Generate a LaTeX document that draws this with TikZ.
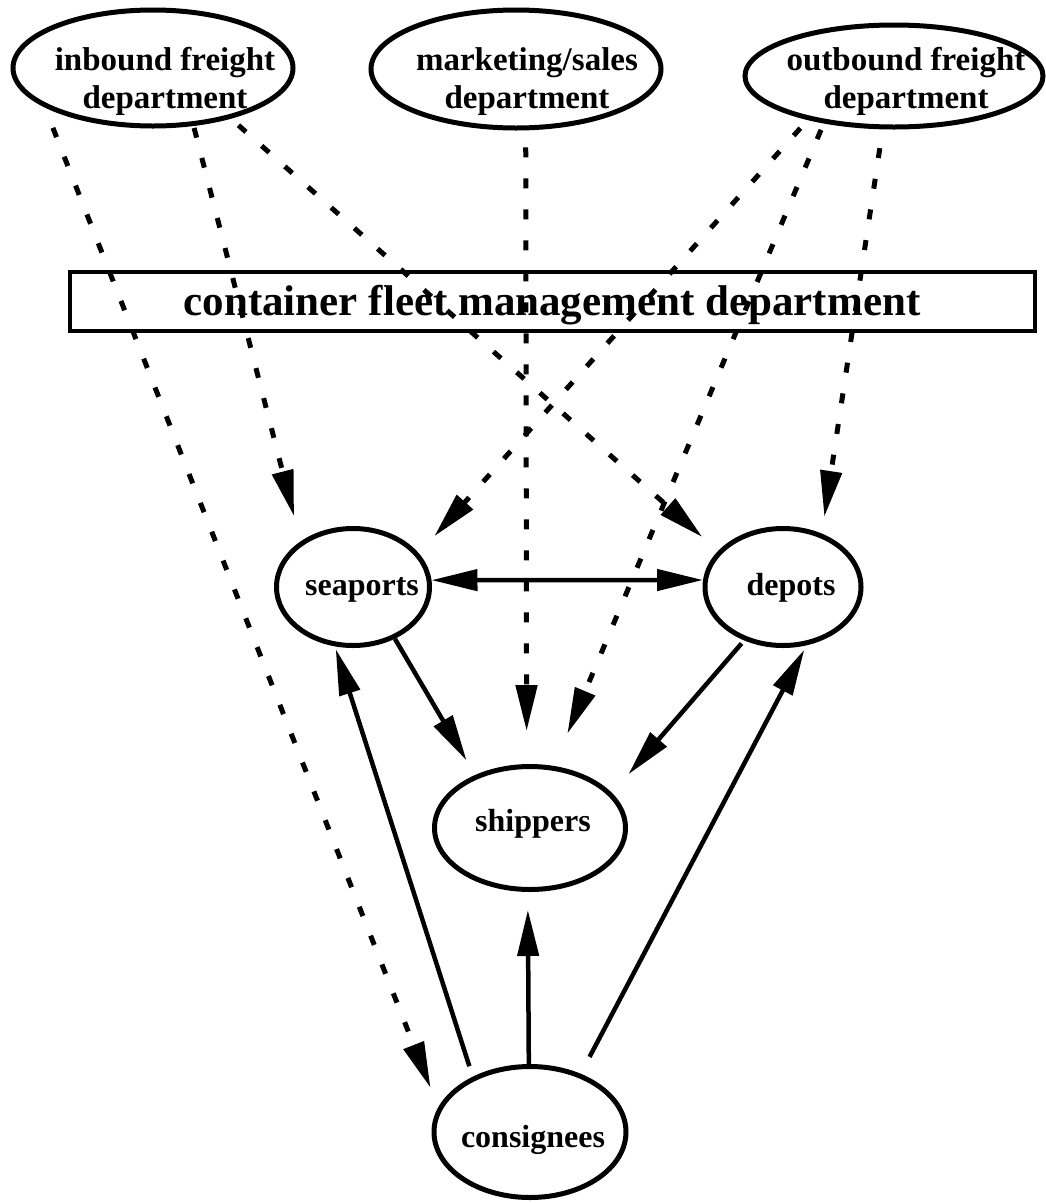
\documentclass[tikz,border=0pt]{standalone}
\usepackage{fontspec}
\setmainfont{Liberation Serif}
\usetikzlibrary{arrows.meta,shapes.geometric}

\tikzset{
  unit/.style={ellipse, draw, line width=5pt, inner sep=0pt},
  label text/.style={inner sep=0pt, anchor=base, font=\bfseries\fontsize{32}{38}\selectfont},
  dept text/.style={inner sep=0pt, anchor=base, font=\bfseries\fontsize{33}{38}\selectfont},
  flow/.style={line width=4.5pt, -{Triangle[length=46pt,width=21pt]}},
  info/.style={line width=5pt, dash pattern=on 10pt off 21pt, -{Triangle[length=46pt,width=21pt]}},
}

\begin{document}
\begin{tikzpicture}[x=1pt, y=-1pt]
  \useasboundingbox (0,0) rectangle (1045,1203);

  % departments
  \node[unit, minimum width=280pt, minimum height=116pt] (inb) at (153,68) {};
  \node[unit, minimum width=290pt, minimum height=118pt] (mkt) at (516,69) {};
  \node[unit, minimum width=298pt, minimum height=102pt] (outb) at (894,76) {};
  \node[dept text] (inbT) at (165,70) {\begin{tabular}[t]{@{}c@{}}inbound freight\\department\end{tabular}};
  \node[dept text] (mktT) at (527,70) {\begin{tabular}[t]{@{}c@{}}marketing/sales\\department\end{tabular}};
  \node[dept text] (outbT) at (906,70) {\begin{tabular}[t]{@{}c@{}}outbound freight\\department\end{tabular}};

  % fleet management
  \node[draw, line width=4.5pt, minimum width=965pt, minimum height=59pt, inner sep=0pt] (cfm) at (552.5,301.5) {};
  \node[inner sep=0pt, anchor=base, font=\bfseries\fontsize{43}{50}\selectfont] (cfmT) at (552,315) {container fleet management department};

  % operational units
  \node[unit, minimum width=153pt, minimum height=117pt] (sea) at (353,587) {};
  \node[unit, minimum width=156pt, minimum height=117pt] (dep) at (783,587) {};
  \node[unit, minimum width=191pt, minimum height=123pt] (shp) at (530,828) {};
  \node[unit, minimum width=192pt, minimum height=131pt] (con) at (530,1132) {};
  \node[label text] (seaT) at (362,595) {seaports};
  \node[label text] (depT) at (791,595) {depots};
  \node[label text] (shpT) at (533,831) {shippers};
  \node[label text] (conT) at (533,1147) {consignees};

  % information flows
  \draw[info, shorten <=22pt, shorten >=21pt] (inb.200) -- (con.165);
  \draw[info, shorten <=2pt, shorten >=26pt] (inb.-55) -- (sea.139.5);
  \draw[info, shorten <=10pt, shorten >=21pt] (inb.-33) -- (dep.151);
  \draw[info, shorten <=17pt, shorten >=33pt] (mkt.-81) -- (shp.93);
  \draw[info, shorten <=11pt, shorten >=23pt] (outb.207.6) -- (sea.27.4);
  \draw[info, shorten <=7pt, shorten >=35pt] (outb.214) -- (shp.69);
  \draw[info, shorten <=19pt, shorten >=17pt] (outb.258) -- (dep.54.4);

  % container flows
  \draw[flow, {Triangle[length=46pt,width=21pt]}-{Triangle[length=46pt,width=21pt]}] (sea.5) -- (dep.175);
  \draw[flow, shorten >=17pt] (sea.-51) -- (shp.136);
  \draw[flow, shorten <=11pt, shorten >=3pt] (con.136) -- (sea.253.6);
  \draw[flow, shorten <=4pt, shorten >=25pt] (dep.234) -- (shp.23);
  \draw[flow, shorten <=19pt, shorten >=5pt] (con.49) -- (dep.-68.5);
  \draw[flow, shorten >=18pt] (con.91.7) -- (shp.268.2);
\end{tikzpicture}
\end{document}
